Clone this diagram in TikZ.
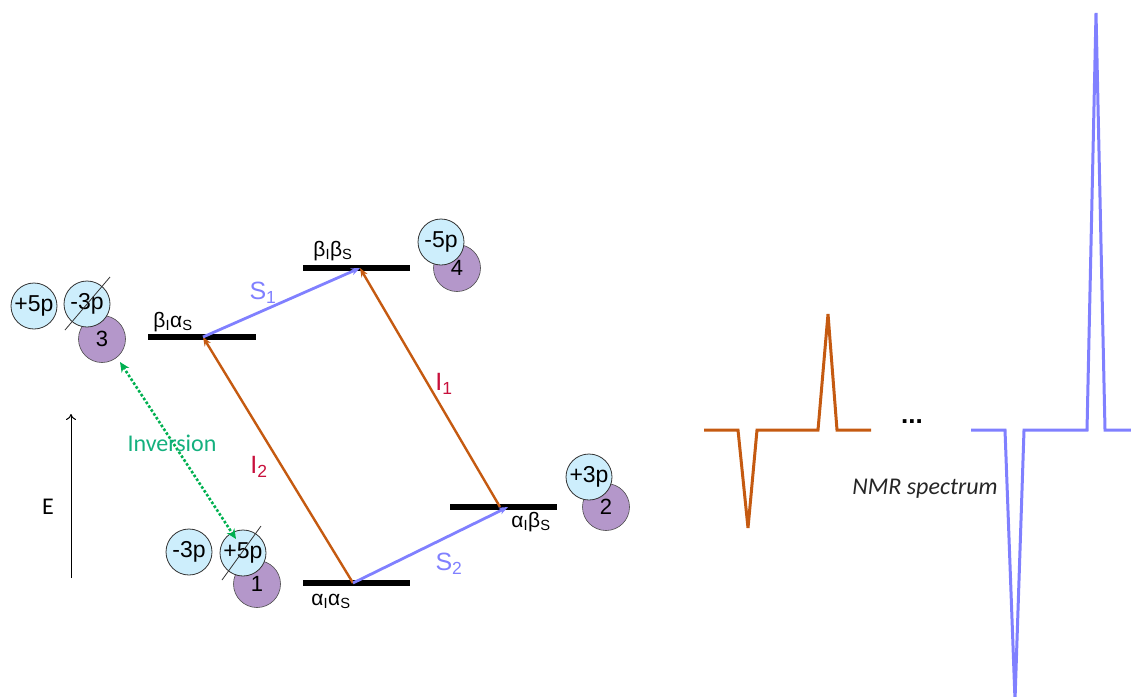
\documentclass[tikz,border=0pt]{standalone}
\usepackage{fontspec}
\setmainfont{Liberation Sans}
\newfontfamily\carlito{Carlito}
\usetikzlibrary{arrows.meta}
\definecolor{orng}{HTML}{C55A11}
\definecolor{blu}{HTML}{8080FF}
\definecolor{crim}{HTML}{C8103C}
\definecolor{grn}{HTML}{00B050}
\definecolor{invc}{HTML}{14B07E}
\definecolor{purp}{HTML}{B497CA}
\definecolor{lblue}{HTML}{CDEEFC}
\tikzset{
  level/.style={line width=6pt},
  ilink/.style={orng, line width=2.4pt, -{Stealth[length=9pt,width=7pt]}},
  slink/.style={blu, line width=2.8pt, -{Stealth[length=9pt,width=7pt]}},
  pcirc/.style={circle, draw=black!70, line width=0.6pt, fill=purp, minimum size=47pt, inner sep=0pt, font=\fontsize{22}{22}\selectfont},
  bcirc/.style={circle, draw=black!80, line width=0.8pt, fill=lblue, minimum size=46pt, inner sep=0pt, font=\fontsize{23}{23}\selectfont},
  lvlab/.style={font=\fontsize{21}{21}\selectfont, inner sep=0pt},
  tlab/.style={font=\fontsize{25}{25}\selectfont, inner sep=0pt},
  slash/.style={black!80, line width=0.8pt},
  spec/.style={line width=3pt, line join=miter},
}
\begin{document}
\begin{tikzpicture}[x=1pt,y=-1pt]
\useasboundingbox (0,0) rectangle (1131,696);
% levels
\draw[level] (148,337) -- (256,337);
\draw[level] (303,268) -- (410,268);
\draw[level] (450,507) -- (557,507);
\draw[level] (303,583) -- (410,583);
\coordinate (ba) at (203,337);
\coordinate (bb) at (360,268);
\coordinate (ab) at (508,507);
\coordinate (aa) at (353,583);
\coordinate (ab0) at (500,507);
% level labels
\node[lvlab] (lba) at (173,322) {β\textsubscript{I}α\textsubscript{S}};
\node[lvlab] (lbb) at (333,251) {β\textsubscript{I}β\textsubscript{S}};
\node[lvlab] (lab) at (531,522) {α\textsubscript{I}β\textsubscript{S}};
\node[lvlab] (laa) at (331,601) {α\textsubscript{I}α\textsubscript{S}};
% transitions
\draw[ilink] (ab0) -- (bb);
\draw[ilink] (aa) -- (ba);
\draw[slink] (ba) -- (bb);
\draw[slink] (aa) -- (ab);
\node[tlab, text=blu] (s1) at (263,293) {S\textsubscript{1}};
\node[tlab, text=blu] (s2) at (449,564) {S\textsubscript{2}};
\node[tlab, text=crim] (i1) at (444,384) {I\textsubscript{1}};
\node[tlab, text=crim] (i2) at (259,467) {I\textsubscript{2}};
% populations
\node[pcirc] (p3) at (102,339) {3};
\node[bcirc] (c3a) at (34,306) {+5p};
\node[bcirc] (c3b) at (87,304) {-3p};
\draw[slash] (65,330) -- (110,277);
\node[pcirc] (p4) at (457,268) {4};
\node[bcirc] (c4) at (441,242) {-5p};
\node[pcirc] (p2) at (606,507) {2};
\node[bcirc] (c2) at (589,477) {+3p};
\node[pcirc] (p1) at (257,584) {1};
\node[bcirc] (c1a) at (189,552) {-3p};
\node[bcirc] (c1b) at (243,553) {+5p};
\draw[slash] (222,580) -- (261,526);
% inversion
\coordinate (inv1) at (120,362);
\coordinate (inv2) at (236,539);
\draw[grn, line width=2.6pt, dotted, {Stealth[length=10pt,width=9pt]}-{Stealth[length=10pt,width=9pt]}] (inv1) -- (inv2);
\node[font=\carlito\fontsize{24}{24}\selectfont, text=invc, inner sep=0pt] (inv) at (172,443) {Inversion};
% energy axis
\coordinate (e0) at (71,578);
\coordinate (e1) at (71,414);
\draw[line width=1pt, -{To[length=6pt,width=10pt]}] (e0) -- (e1);
\node[font=\carlito\fontsize{24}{24}\selectfont, inner sep=0pt] (E) at (48,507) {E};
% spectrum
\draw[orng, spec] (704,430) -- (738,430) -- (748,528) -- (757,430) -- (818,430) -- (828,314) -- (837,430) -- (871,430);
\node[font=\bfseries\fontsize{26}{26}\selectfont, inner sep=0pt] (dots) at (912,422) {...};
\draw[blu, spec] (971,430) -- (1005,430) -- (1015,700) -- (1024,430) -- (1087,430) -- (1096,13) -- (1105,430) -- (1131,430);
\node[font=\carlito\itshape\fontsize{24}{24}\selectfont, text=black!85, inner sep=0pt] (nmr) at (925,489) {NMR spectrum};
\end{tikzpicture}
\end{document}
